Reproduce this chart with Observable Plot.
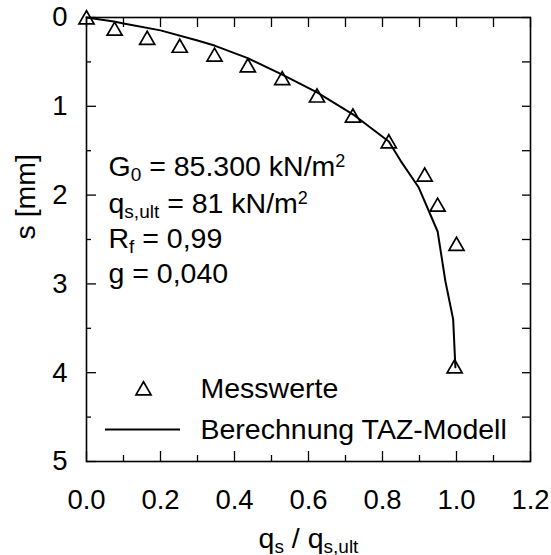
<!DOCTYPE html>
<html>
<head>
<meta charset="utf-8">
<script src="https://cdn.jsdelivr.net/npm/d3@7"></script>
<script src="https://cdn.jsdelivr.net/npm/@observablehq/plot@0.6"></script>
<style>
  html, body { margin: 0; padding: 0; background: #fff; }
  #chart svg { display: block; }
</style>
</head>
<body>
<div id="chart"></div>
<script>
// ---- data ----
const qsMeasured = [0, 0.076, 0.164, 0.252, 0.346, 0.436, 0.529, 0.623, 0.72, 0.817, 0.914, 0.949, 1.0, 0.995];
const sMeasured  = [0, 0.128, 0.23, 0.32, 0.42, 0.54, 0.685, 0.88, 1.106, 1.396, 1.77, 2.11, 2.55, 3.93];

const qsModel = [0, 0.074, 0.1, 0.2, 0.3, 0.346, 0.434, 0.529, 0.623, 0.72, 0.817, 0.849, 0.898, 0.949, 0.97, 0.991, 0.997];
const sModel  = [0, 0.045, 0.068, 0.145, 0.26, 0.316, 0.455, 0.643, 0.843, 1.09, 1.396, 1.614, 1.915, 2.41, 2.97, 3.40, 3.94];

const xTicks = [0, 0.2, 0.4, 0.6, 0.8, 1.0, 1.2];
const xMinorTicks = [0.1, 0.3, 0.5, 0.7, 0.9, 1.1];
const yTicks = [0, 1, 2, 3, 4, 5];
const yMinorTicks = [0.5, 1.5, 2.5, 3.5, 4.5];

const xLabel = "q_{s} / q_{s,ult}";
const yLabel = "s [mm]";
const annotLines = ["G_{0} = 85.300 kN/m^{2}", "q_{s,ult} = 81 kN/m^{2}", "R_{f} = 0,99", "g = 0,040"];
const legendLabels = ["Messwerte", "Berechnung TAZ-Modell"];

// ---- tables built from the arrays ----
const measured = qsMeasured.map((q, i) => ({q, s: sMeasured[i]}));
const model = qsModel.map((q, i) => ({q, s: sModel[i]}));
const allXTicks = [...xTicks, ...xMinorTicks].sort((a, b) => a - b);
const allYTicks = [...yTicks, ...yMinorTicks].sort((a, b) => a - b);

const FONT = "'Liberation Sans', Arial, Helvetica, sans-serif";
const TXT = 28.5;
const annotDy = [158, 195, 230, 265];

const chart = Plot.plot({
  width: 551,
  height: 555,
  marginLeft: 86,
  marginRight: 21,
  marginTop: 17,
  marginBottom: 94,
  style: {fontFamily: FONT, fontSize: "27px", color: "black", background: "white"},
  x: {domain: [0, 1.2]},
  y: {domain: [0, 5], reverse: true},
  marks: [
    // bottom axis: labels + inward ticks
    Plot.axisX(xTicks, {anchor: "bottom", tickSize: 0, tickPadding: 28, tickFormat: d3.format(".1f"), fontSize: 27.5, label: null}),
    Plot.axisX(xTicks, {anchor: "bottom", tickSize: -10, tickFormat: () => "", label: null, strokeWidth: 1.3}),
    Plot.axisX(xMinorTicks, {anchor: "bottom", tickSize: -6, tickFormat: () => "", label: null, strokeWidth: 1.3}),
    // top axis: inward ticks
    Plot.axisX(allXTicks, {anchor: "top", tickSize: -9, tickFormat: () => "", label: null, strokeWidth: 1.3}),
    // left axis
    Plot.axisY(yTicks, {anchor: "left", tickSize: 0, tickPadding: 19, tickFormat: d3.format("d"), fontSize: 27.5, label: null}),
    Plot.axisY(yTicks, {anchor: "left", tickSize: -10, tickFormat: () => "", label: null, strokeWidth: 1.3}),
    Plot.axisY(yMinorTicks, {anchor: "left", tickSize: -5, tickFormat: () => "", label: null, strokeWidth: 1.3}),
    // right axis: inward ticks
    Plot.axisY(allYTicks, {anchor: "right", tickSize: -9, tickFormat: () => "", label: null, strokeWidth: 1.3}),
    Plot.frame({stroke: "black", strokeWidth: 1.6}),

    // model curve
    Plot.line(model, {x: "q", y: "s", stroke: "black", strokeWidth: 2}),
    // measured points (symbol box centred on the value)
    Plot.dot(measured, {x: "q", y: "s", symbol: "triangle", r: 5.6, stroke: "black", strokeWidth: 1.7, fill: "none", dy: 2}),

    // axis titles
    Plot.text([yLabel], {text: d => d, frameAnchor: "left", dx: -61, rotate: -90, fontSize: TXT}),
    Plot.text([xLabel], {text: d => d, frameAnchor: "bottom", dy: 86, lineAnchor: "bottom", fontSize: TXT}),

    // parameter annotations
    ...annotLines.map((t, i) => Plot.text([t], {text: d => d, frameAnchor: "top-left", dx: 22, dy: annotDy[i], textAnchor: "start", lineAnchor: "bottom", fontSize: TXT})),

    // legend
    Plot.dot([legendLabels[0]], {frameAnchor: "top-left", dx: 57, dy: 373, symbol: "triangle", r: 5.6, stroke: "black", strokeWidth: 1.7, fill: "none"}),
    Plot.text([legendLabels[0]], {text: d => d, frameAnchor: "top-left", dx: 114, dy: 380, textAnchor: "start", lineAnchor: "bottom", fontSize: TXT}),
    Plot.ruleY([legendLabels[1]], {y: () => (428 - 17) / 88.6, x1: (105 - 86) / 370, x2: (180 - 86) / 370, stroke: "black", strokeWidth: 2}),
    Plot.text([legendLabels[1]], {text: d => d, frameAnchor: "top-left", dx: 114, dy: 421, textAnchor: "start", lineAnchor: "bottom", fontSize: TXT})
  ]
});

// rich text: _{...} subscripts, ^{...} superscripts
function richify(el) {
  const s = el.textContent;
  if (!/[_^]\{/.test(s)) return;
  const parts = [];
  const re = /([_^])\{([^}]*)\}/g;
  let last = 0, m;
  while ((m = re.exec(s))) {
    if (m.index > last) parts.push({t: s.slice(last, m.index), k: "n"});
    parts.push({t: m[2], k: m[1] === "_" ? "sub" : "sup"});
    last = re.lastIndex;
  }
  if (last < s.length) parts.push({t: s.slice(last), k: "n"});
  el.textContent = "";
  const ns = "http://www.w3.org/2000/svg";
  let shift = 0;
  for (const p of parts) {
    const ts = document.createElementNS(ns, "tspan");
    const target = p.k === "sub" ? 5 : p.k === "sup" ? -9 : 0;
    const d = target - shift;
    if (d !== 0) ts.setAttribute("dy", d);
    shift = target;
    if (p.k !== "n") ts.setAttribute("font-size", p.k === "sub" ? 19 : 18);
    ts.textContent = p.t;
    el.appendChild(ts);
  }
}
chart.querySelectorAll("text").forEach(richify);

document.getElementById("chart").appendChild(chart);
</script>
</body>
</html>
